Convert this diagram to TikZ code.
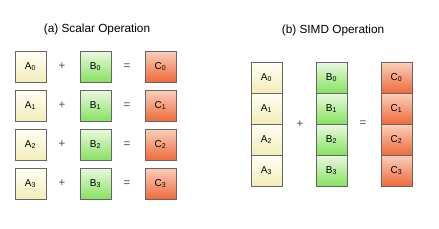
\documentclass[tikz,border=0pt]{standalone}
\usepackage{fontspec}
\setmainfont{Liberation Sans}
\usetikzlibrary{shadows}

\definecolor{aTop}{HTML}{FFFFF6}
\definecolor{aBottom}{HTML}{F3EDB8}
\definecolor{bTop}{HTML}{EAF9E2}
\definecolor{bBottom}{HTML}{86E25E}
\definecolor{cTop}{HTML}{FAD0BC}
\definecolor{cBottom}{HTML}{EF6A3A}

\tikzset{
  cell/.style={draw=black!60, line width=0.6pt, minimum size=31pt, inner sep=0pt,
    font=\fontsize{10}{11}\selectfont,
    drop shadow={shadow xshift=1.2pt, shadow yshift=-1.2pt, opacity=0.3}},
  acell/.style={cell, top color=aTop, bottom color=aBottom},
  bcell/.style={cell, top color=bTop, bottom color=bBottom},
  ccell/.style={cell, top color=cTop, bottom color=cBottom},
  sign/.style={font=\fontsize{11.5}{12}\selectfont, text=black!70},
  caption/.style={font=\fontsize{11.8}{13}\selectfont}
}

\begin{document}
\begin{tikzpicture}[x=1pt, y=-1pt]
    % Fix the size of the picture
    \useasboundingbox (0, 0) rectangle (439, 228);

    % Titles
    \node[caption] (titleScalar) at (97, 29) {(a) Scalar Operation};
    \node[caption] (titleSimd) at (333, 30) {(b) SIMD Operation};

    % Scalar operation: one addition per row
    \foreach \i in {0,...,3} {
      \node[acell] (sa\i) at (30.5, 66.5 + 39*\i) {A\textsubscript{\i}};
      \node[sign] (sp\i) at (62, 66.5 + 39*\i) {+};
      \node[bcell] (sb\i) at (95.5, 66.5 + 39*\i) {B\textsubscript{\i}};
      \node[sign] (se\i) at (127, 66.5 + 39*\i) {=};
      \node[ccell] (sc\i) at (160.5, 66.5 + 39*\i) {C\textsubscript{\i}};
    }

    % SIMD operation: stacked columns
    \foreach \i in {0,...,3} {
      \node[acell] (va\i) at (266.5, 77.5 + 31*\i) {A\textsubscript{\i}};
      \node[bcell] (vb\i) at (331.5, 77.5 + 31*\i) {B\textsubscript{\i}};
      \node[ccell] (vc\i) at (396.5, 77.5 + 31*\i) {C\textsubscript{\i}};
    }
    \node[sign] (vp) at (300, 124) {+};
    \node[sign] (ve) at (363, 124) {=};
  \end{tikzpicture}
\end{document}
